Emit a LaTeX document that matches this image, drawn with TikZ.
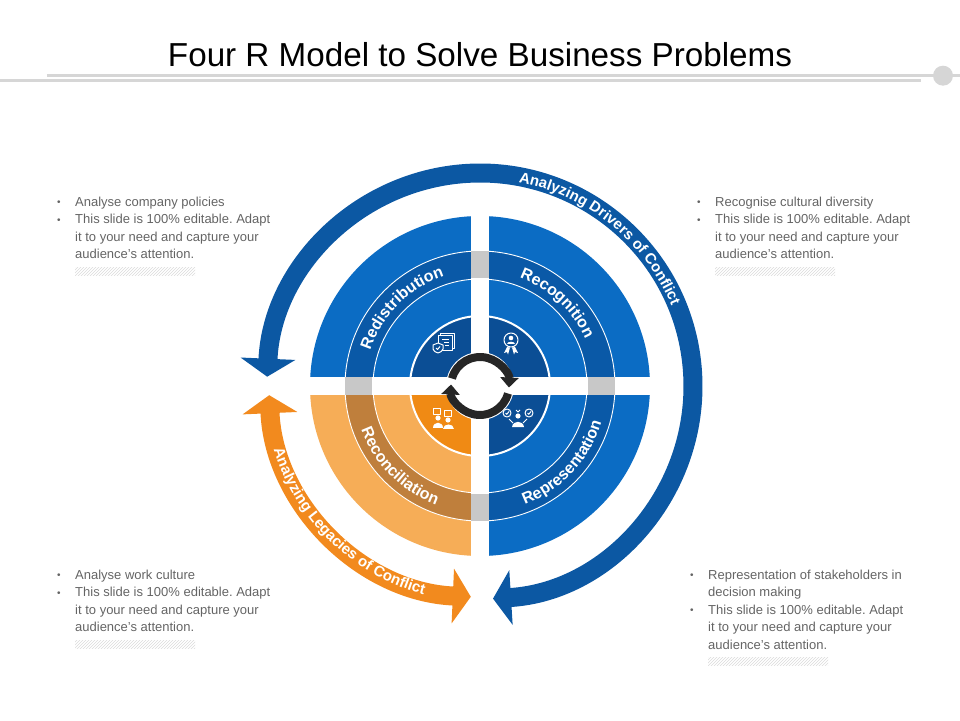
\documentclass[tikz,border=0pt]{standalone}
\usepackage{fontspec}
\setmainfont{Liberation Sans}
\usetikzlibrary{arrows.meta,decorations.text,patterns,positioning}
\definecolor{blueOut}{HTML}{0B6CC4}
\definecolor{blueBand}{HTML}{0A59A7}
\definecolor{blueIn}{HTML}{0B4E95}
\definecolor{orgOut}{HTML}{F6AD57}
\definecolor{orgBand}{HTML}{BF7F3C}
\definecolor{orgIn}{HTML}{F08A14}
\definecolor{arrBlue}{HTML}{0C58A3}
\definecolor{arrOrg}{HTML}{F28A1E}
\definecolor{gapGray}{HTML}{C8C8C8}
\definecolor{ruleGray}{HTML}{D6D6D6}
\definecolor{txtGray}{HTML}{646464}
\newcommand\bul{\makebox[18pt][l]{\raisebox{0.5pt}{\fontsize{10}{10}\selectfont\textbullet}}}
\newcommand\bgap{\hspace*{18pt}}
\frenchspacing
\begin{document}
\begin{tikzpicture}[x=1pt, y=1pt,
  info/.style={anchor=north west, inner sep=0pt, align=left, text=txtGray, font=\fontsize{13}{17.5}\selectfont},
  hatch/.style={pattern=north east lines, pattern color=black!14, minimum width=120pt, minimum height=8pt, inner sep=0pt},
  quad label/.style={decorate, decoration={text along path, text align=center, text color=white, text={|\fontsize{16}{16}\selectfont\bfseries|#1}}},
  loop label/.style={decorate, decoration={text along path, text align=center, text color=white, text={|\fontsize{15}{15}\selectfont\bfseries|#1}}},
  loop arrow/.style={line width=19pt, {Triangle[width=54pt,length=18pt]}-{Triangle[width=54pt,length=18pt]}},
  icon/.style={draw=white, line width=1pt, line join=round},
  cyc/.style={line width=8pt, draw=black!85, -{Triangle[width=18pt,length=10pt]}}]
\useasboundingbox (-480,-334) rectangle (480,386);
% title and rule
\node[anchor=base] (title) at (0,319) {\resizebox{624pt}{!}{\fontsize{34}{34}\selectfont Four R Model to Solve Business Problems}};
\draw[ruleGray, line width=2.5pt] (-433,310.3) -- (480,310.3);
\draw[ruleGray, line width=2.5pt] (-480,305.3) -- (441,305.3);
\node[circle, fill=ruleGray, minimum size=20pt, inner sep=0pt] (dot) at (463,310.3) {};
% outer arrows
\draw[loop arrow, draw=arrBlue] (-86.5:213) arc[start angle=-86.5, end angle=177.5, radius=213];
\draw[loop arrow, draw=arrOrg] (182.5:211) arc[start angle=182.5, end angle=267.5, radius=211];
\path[loop label={Analyzing Drivers of Conflict}] (91:207.5) arc[start angle=91, end angle=11, radius=207.5];
\path[loop label={Analyzing Legacies of Conflict}] (186:216) arc[start angle=186, end angle=266, radius=216];
% quadrants
\foreach \a/\cA/\cB/\cC in {0/blueOut/blueBand/blueIn, 90/blueOut/blueBand/blueIn, 180/orgOut/orgBand/orgIn, 270/blueOut/blueBand/blueIn} {
  \fill[\cA] (0,0) -- (\a:170) arc[start angle=\a, end angle=\a+90, radius=170] -- cycle;
  \fill[\cB] (0,0) -- (\a:135) arc[start angle=\a, end angle=\a+90, radius=135] -- cycle;
  \fill[\cA] (0,0) -- (\a:107) arc[start angle=\a, end angle=\a+90, radius=107] -- cycle;
  \fill[\cC] (0,0) -- (\a:70) arc[start angle=\a, end angle=\a+90, radius=70] -- cycle;
}
\draw[white, line width=0.9pt] (0,0) circle[radius=135] (0,0) circle[radius=107];
\draw[white, line width=2pt] (0,0) circle[radius=70];
% cross
\fill[white] (-9,-172) rectangle (9,172);
\fill[white] (-172,-9) rectangle (172,9);
\foreach \r in {0,90,180,270}
  \fill[gapGray, rotate=\r] (-9,108) rectangle (9,135);
% ring labels
\path[quad label=Redistribution] (175:115.3) arc[start angle=175, end angle=95, radius=115.3];
\path[quad label=Recognition] (87:115.3) arc[start angle=87, end angle=7, radius=115.3];
\path[quad label=Reconciliation] (185:126.7) arc[start angle=185, end angle=265, radius=126.7];
\path[quad label=Representation] (277:126.7) arc[start angle=277, end angle=357, radius=126.7];
% centre loop
\fill[white] (0,0) circle[radius=34];
\draw[cyc] (165:29) arc[start angle=165, end angle=-3, radius=29];
\draw[cyc] (-15:29) arc[start angle=-15, end angle=-183, radius=29];
% icons
\draw[icon] (-40,51) -- (-40,53) -- (-26,53) -- (-26,38) -- (-28,38);
\draw[icon] (-42,36) rectangle (-28,51);
\draw[icon] (-38,47) -- (-31,47) (-36,44) -- (-31,44) (-35,41) -- (-31,41);
\filldraw[icon, fill=blueIn] (-47,41) -- (-42,43) -- (-37,41) -- (-37,37) .. controls (-37,35) and (-40,33.5) .. (-42,33) .. controls (-44,33.5) and (-47,35) .. (-47,37) -- cycle;
\draw[icon] (-44,38) -- (-42.5,36.5) -- (-40,39.5);
\draw[icon] (31,46) circle[radius=7];
\fill[white] (31,48) circle[radius=2.3];
\fill[white] (27,42) .. controls (27,45.5) and (35,45.5) .. (35,42) -- cycle;
\fill[white] (27,39) -- (24,33) -- (27,34) -- (28,31.5) -- (30,38.5) -- cycle;
\fill[white] (35,39) -- (38,33) -- (35,34) -- (34,31.5) -- (32,38.5) -- cycle;
\draw[icon] (-47,-22) rectangle (-40,-28);
\draw[icon] (-36,-24) rectangle (-29,-30);
\fill[white] (-42,-32) circle[radius=2.6] (-32,-34) circle[radius=2.6];
\fill[white] (-47,-42) .. controls (-47,-35) and (-37,-35) .. (-37,-42) -- cycle;
\fill[white] (-37.5,-43) .. controls (-37.5,-37) and (-26.5,-37) .. (-26.5,-43) -- cycle;
\draw[icon] (27,-27) circle[radius=4] (49,-27) circle[radius=4];
\draw[icon] (25.5,-27) -- (26.8,-28.3) -- (29,-25.5) (47.5,-27) -- (48.8,-28.3) -- (51,-25.5);
\fill[white] (38,-30) circle[radius=2.6];
\fill[white] (32,-41) .. controls (33,-34) and (43,-34) .. (44,-41) -- cycle;
\draw[icon] (33,-37) -- (29,-33) (43,-37) -- (47,-33);
\draw[icon] (36,-24) -- (38,-26) -- (40,-24);
% side texts
\node[info] (tl) at (-423,189.5) {\bul Analyse company policies\\ \bul This slide is 100\% editable. Adapt\\ \bgap it to your need and capture your\\ \bgap audience’s attention.};
\node[info] (tr) at (217,189.5) {\bul Recognise cultural diversity\\ \bul This slide is 100\% editable. Adapt\\ \bgap it to your need and capture your\\ \bgap audience’s attention.};
\node[info] (bl) at (-423,-183.5) {\bul Analyse work culture\\ \bul This slide is 100\% editable. Adapt\\ \bgap it to your need and capture your\\ \bgap audience’s attention.};
\node[info] (br) at (210,-183.5) {\bul Representation of stakeholders in\\ \bgap decision making\\ \bul This slide is 100\% editable. Adapt\\ \bgap it to your need and capture your\\ \bgap audience’s attention.};
\node[hatch, below right=8pt and 18pt of tl.south west] (tlh) {};
\node[hatch, below right=8pt and 18pt of tr.south west] (trh) {};
\node[hatch, below right=8pt and 18pt of bl.south west] (blh) {};
\node[hatch, below right=8pt and 18pt of br.south west] (brh) {};
\end{tikzpicture}
\end{document}
